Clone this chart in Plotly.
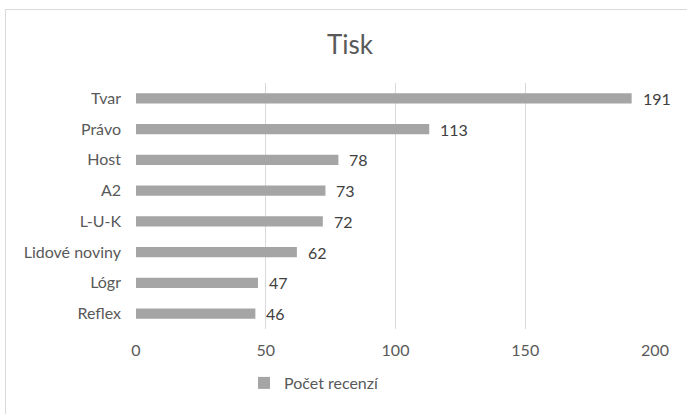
import plotly.graph_objects as go

categories = ["Tvar", "Právo", "Host", "A2", "L-U-K", "Lidové noviny", "Lógr", "Reflex"]
values = [191, 113, 78, 73, 72, 62, 47, 46]
series_name = "Počet recenzí"
tick_vals = [0, 50, 100, 150, 200]

FONT = "Lato"
L, R, T, B = 136, 32, 83, 85
W, H = 687, 414
pw, ph = W - L - R, H - T - B

def px_x(x):
    return (x - L) / pw

def px_y(y):
    return (H - B - y) / ph

fig = go.Figure()
fig.add_trace(go.Bar(
    y=categories, x=values, orientation="h", name=series_name,
    marker=dict(color="#A5A5A5", line=dict(width=0)),
    showlegend=True,
))

for c, v in zip(categories, values):
    fig.add_annotation(x=v, y=c, xref="x", yref="y", text=str(v),
                       showarrow=False, xanchor="left", yanchor="middle",
                       xshift=9, font=dict(family=FONT, size=16, color="#404040"))

fig.update_layout(
    width=W, height=H,
    margin=dict(l=L, r=R, t=T, b=B),
    paper_bgcolor="white", plot_bgcolor="white",
    bargap=0.66,
    title=dict(text="Tisk", x=350 / W, xref="container", xanchor="center",
               y=1 - 45 / H, yanchor="middle",
               font=dict(family=FONT, size=26, color="#595959")),
    xaxis=dict(range=[0, 200], tickvals=tick_vals, showgrid=True,
               gridcolor="#D9D9D9", gridwidth=1, zeroline=False,
               showline=False, ticks="", ticklabelstandoff=10,
               tickfont=dict(family=FONT, size=16, color="#595959")),
    yaxis=dict(autorange="reversed", showgrid=False, showline=False,
               ticks="", ticklabelstandoff=14,
               tickfont=dict(family=FONT, size=16, color="#595959")),
    legend=dict(orientation="h", x=px_x(244), xanchor="left",
                y=px_y(383), yanchor="middle",
                font=dict(family=FONT, size=16, color="#595959")),
    shapes=[dict(type="rect", xref="paper", yref="paper",
                 x0=px_x(5.5), x1=px_x(700), y0=px_y(430), y1=px_y(9.5),
                 line=dict(color="#D9D9D9", width=1), fillcolor="rgba(0,0,0,0)",
                 layer="below")],
)

fig.write_html("out.html")
